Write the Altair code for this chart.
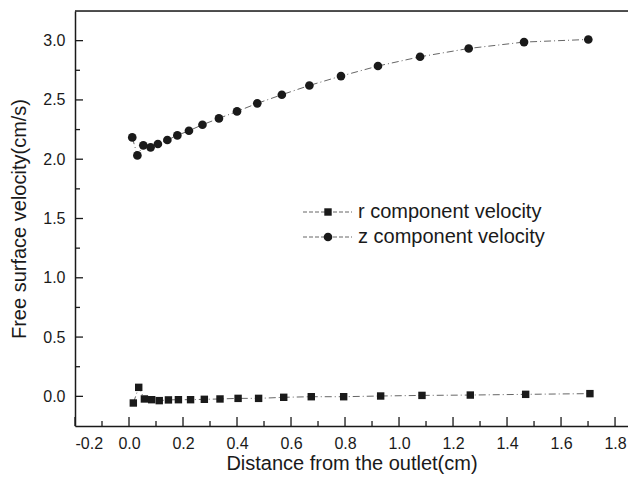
import altair as alt
import pandas as pd

# ---- data ----
r_x = [0.016, 0.036, 0.057, 0.084, 0.112, 0.146, 0.183, 0.228, 0.279, 0.337, 0.404, 0.480,
       0.573, 0.675, 0.795, 0.932, 1.085, 1.264, 1.469, 1.707]
r_y = [-0.056, 0.076, -0.022, -0.028, -0.036, -0.030, -0.028, -0.028, -0.025, -0.022, -0.017,
       -0.017, -0.008, -0.003, -0.003, 0.003, 0.008, 0.011, 0.017, 0.023]
z_x = [0.012, 0.031, 0.053, 0.080, 0.107, 0.142, 0.179, 0.222, 0.272, 0.333, 0.400, 0.475,
       0.566, 0.668, 0.785, 0.922, 1.078, 1.258, 1.463, 1.701]
z_y = [2.184, 2.032, 2.117, 2.100, 2.128, 2.162, 2.201, 2.240, 2.291, 2.344, 2.403, 2.471,
       2.544, 2.622, 2.701, 2.786, 2.864, 2.934, 2.988, 3.010]

x_major = [-0.2, 0.0, 0.2, 0.4, 0.6, 0.8, 1.0, 1.2, 1.4, 1.6, 1.8]
x_minor = [-0.1, 0.1, 0.3, 0.5, 0.7, 0.9, 1.1, 1.3, 1.5, 1.7]
y_major = [0.0, 0.5, 1.0, 1.5, 2.0, 2.5, 3.0]
y_minor = [0.25, 0.75, 1.25, 1.75, 2.25, 2.75]

legend_labels = ["r component velocity", "z component velocity"]
x_title = "Distance from the outlet(cm)"
y_title = "Free surface velocity(cm/s)"

W, H = 553, 415
FONT = "Liberation Sans"
INK = "#1a1a1a"
LINE = "#666666"

xs = alt.Scale(domain=[-0.2, 1.848], nice=False, zero=False)
ys = alt.Scale(domain=[-0.25, 3.25], nice=False, zero=False)

r_df = pd.DataFrame({"x": r_x, "y": r_y, "i": range(len(r_x))})
z_df = pd.DataFrame({"x": z_x, "y": z_y, "i": range(len(z_x))})

xlab = "datum.value < 0 ? '-' + format(-datum.value, '.1f') : format(datum.value, '.1f')"

x_axis = alt.Axis(values=x_major, ticks=False, grid=False, domainColor=INK, domainWidth=1.5,
                  labelFont=FONT, labelFontSize=16, labelColor=INK, labelPadding=9,
                  labelExpr=xlab, title=x_title, titleFont=FONT, titleFontSize=20,
                  titleFontWeight="normal", titleColor=INK,
                  titleBaseline="alphabetic", titleY=43)
y_axis = alt.Axis(values=y_major, ticks=False, grid=False, domainColor=INK, domainWidth=1.5,
                  labelFont=FONT, labelFontSize=16, labelColor=INK, labelPadding=10,
                  format=".1f", title=y_title, titleFont=FONT, titleFontSize=20,
                  titleFontWeight="normal", titleColor=INK, titlePadding=13)


def X(field):
    return alt.X(field, scale=xs, axis=x_axis)


def Y(field):
    return alt.Y(field, scale=ys, axis=y_axis)


dash = [7, 3, 1, 3]

r_line = alt.Chart(r_df).mark_line(color=LINE, strokeWidth=1, strokeDash=dash).encode(
    x=X("x:Q"), y=Y("y:Q"), order="i:Q")
z_line = alt.Chart(z_df).mark_line(color=LINE, strokeWidth=1, strokeDash=dash).encode(
    x=X("x:Q"), y=Y("y:Q"), order="i:Q")
r_pts = alt.Chart(r_df).mark_point(shape="square", filled=True, size=55, color=INK, opacity=1).encode(
    x=X("x:Q"), y=Y("y:Q"))
z_pts = alt.Chart(z_df).mark_point(shape="circle", filled=True, size=75, color=INK, opacity=1).encode(
    x=X("x:Q"), y=Y("y:Q"))

# inward ticks
xmaj = alt.Chart(pd.DataFrame({"v": x_major})).mark_rule(color=INK, strokeWidth=1.3).encode(
    x=X("v:Q"), y=alt.value(H), y2=alt.value(H - 9))
xmin = alt.Chart(pd.DataFrame({"v": x_minor})).mark_rule(color=INK, strokeWidth=1.3).encode(
    x=X("v:Q"), y=alt.value(H), y2=alt.value(H - 5))
ymaj = alt.Chart(pd.DataFrame({"v": y_major})).mark_rule(color=INK, strokeWidth=1.3).encode(
    y=Y("v:Q"), x=alt.value(0), x2=alt.value(8))
ymin = alt.Chart(pd.DataFrame({"v": y_minor})).mark_rule(color=INK, strokeWidth=1.3).encode(
    y=Y("v:Q"), x=alt.value(0), x2=alt.value(5))

top = alt.Chart(pd.DataFrame({"a": [0]})).mark_rule(color=INK, strokeWidth=1.5).encode(
    x=alt.value(0), x2=alt.value(W), y=alt.value(0))

# legend
leg = []
rows = [(201, "square", 55), (226, "circle", 75)]
for (yy, shp, sz), lab in zip(rows, legend_labels):
    one = pd.DataFrame({"label": [lab]})
    leg.append(alt.Chart(one).mark_rule(color=LINE, strokeWidth=1, strokeDash=[4, 2]).encode(
        x=alt.value(228), x2=alt.value(277), y=alt.value(yy)))
    leg.append(alt.Chart(one).mark_point(shape=shp, filled=True, size=sz, color=INK, opacity=1).encode(
        x=alt.value(253), y=alt.value(yy)))
    leg.append(alt.Chart(one).mark_text(align="left", baseline="middle", font=FONT, fontSize=20,
                                        color=INK).encode(
        x=alt.value(283), y=alt.value(yy), text="label:N"))

chart = alt.layer(r_line, z_line, xmaj, xmin, ymaj, ymin, top, r_pts, z_pts, *leg).properties(
    width=W, height=H,
    padding={"left": 67, "top": 3, "right": 0, "bottom": 48},
    autosize=alt.AutoSizeParams(type="none"),
).configure_view(stroke=None).configure(background="white")

chart.save("out.html", embed_options={"renderer": "svg", "actions": False})
